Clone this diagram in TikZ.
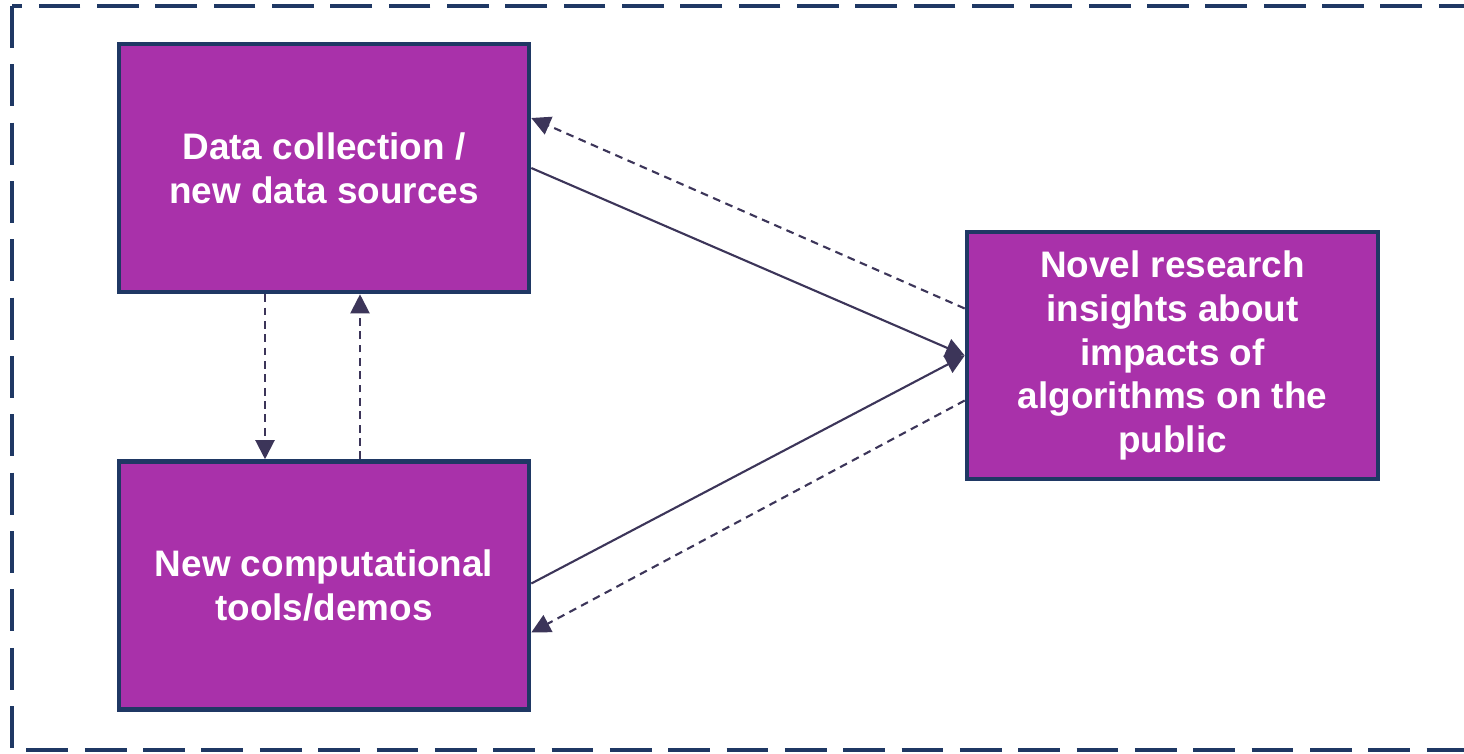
\documentclass[tikz,border=0pt]{standalone}
\usepackage{fontspec}
\setmainfont{Liberation Sans}
\usetikzlibrary{arrows.meta}
\definecolor{boxfill}{HTML}{A931AA}
\definecolor{boxline}{HTML}{1F3864}
\definecolor{arrowcol}{HTML}{3C3559}
\tikzset{
  stage/.style={draw=boxline, fill=boxfill, line width=1.3pt, inner sep=0pt,
    minimum width=4.10cm, minimum height=2.48cm, align=center, text=white,
    font=\fontsize{10.5}{12.5}\selectfont\bfseries},
  link/.style={draw=arrowcol, line width=0.6pt, -{Triangle[length=5.4pt,width=5.4pt]}},
  feedback/.style={link, dash pattern=on 2.2pt off 1.6pt}
}
\begin{document}
\begin{tikzpicture}
				\useasboundingbox (0,0) rectangle (14.64,-7.53);
				\clip (0,0) rectangle (14.64,-7.53);
				\draw[boxline, line width=1.2pt, dash pattern=on 11.9pt off 4.7pt] (0.12,-0.06) rectangle (14.90,-7.50);
				
				\node[stage] (data) at (3.24,-1.68) {Data collection /\\new data sources};
				\node[stage] (tools) at (3.24,-5.855) {New computational\\tools/demos};
				\node[stage, minimum width=4.11cm, minimum height=2.47cm] (insight) at (11.725,-3.555)
					{Novel research\\insights about\\impacts of\\algorithms on the\\public};
				
				\draw[link] (data.east) -- (insight.west);
				\draw[link] ([yshift=0.02cm]tools.east) -- (insight.west);
				\draw[feedback] ([yshift=0.47cm]insight.west) -- ([yshift=0.50cm]data.east);
				\draw[feedback] ([yshift=-0.45cm]insight.west) -- ([yshift=-0.47cm]tools.east);
				
				\draw[feedback] ([xshift=-0.59cm]data.south) -- ([xshift=-0.59cm]tools.north);
				\draw[feedback] ([xshift=0.36cm]tools.north) -- ([xshift=0.36cm]data.south);
\end{tikzpicture}
\end{document}
